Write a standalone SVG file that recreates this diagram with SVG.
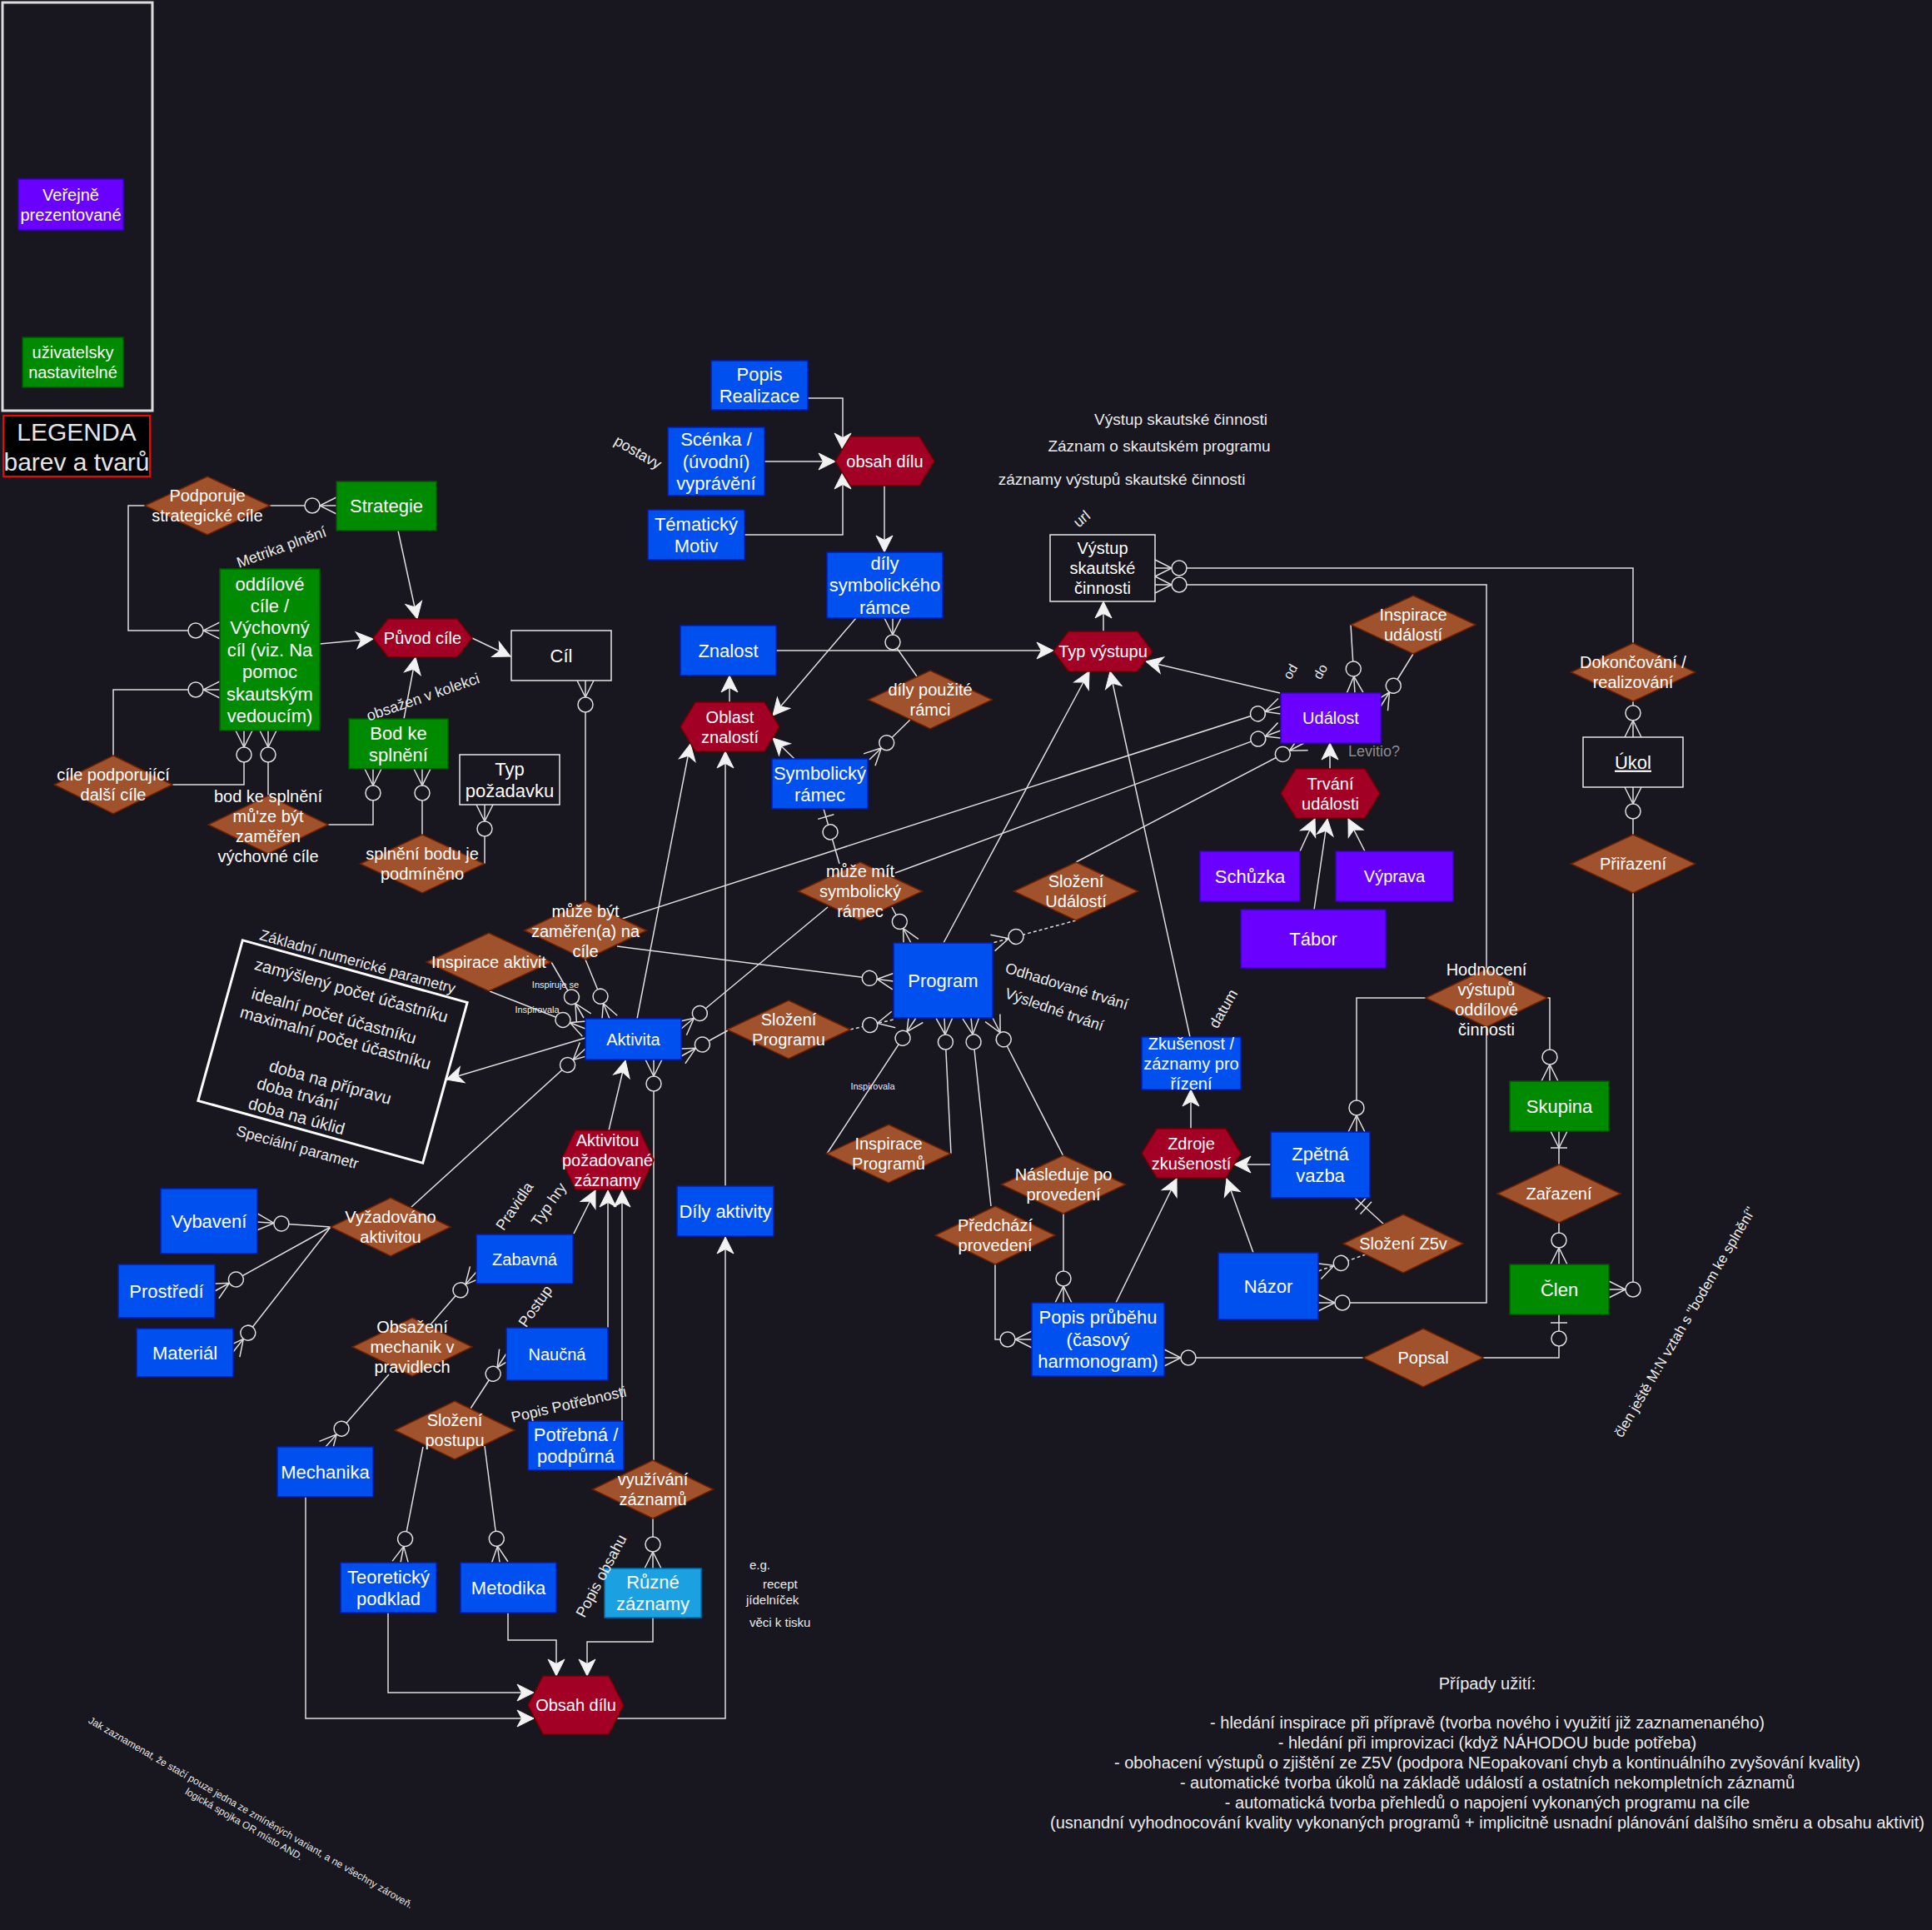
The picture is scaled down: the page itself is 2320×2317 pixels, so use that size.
<svg xmlns="http://www.w3.org/2000/svg" width="2320" height="2317" viewBox="0 0 2320 2317">
<style>
  text { font-family: "Liberation Sans", Arial, Helvetica, sans-serif; fill: #ffffff; }
  .b { fill: #0050ef; stroke: #001dbc; stroke-width: 1.5; }
  .lb { fill: #1ba1e2; stroke: #006eaf; stroke-width: 1.5; }
  .p { fill: #6a00ff; stroke: #3700cc; stroke-width: 1.5; }
  .g { fill: #008a00; stroke: #005700; stroke-width: 1.5; }
  .w { fill: #18161f; stroke: #e6e6e6; stroke-width: 1.5; }
  .h { fill: #a20025; stroke: #6f0000; stroke-width: 1.5; }
  .d { fill: #a0522d; stroke: #6d1f00; stroke-width: 1.5; }
  .t22 { font-size: 22px; text-anchor: middle; }
  .t20 { font-size: 20px; text-anchor: middle; }
  .lbl { font-size: 18px; text-anchor: middle; fill: #ececec; }
  .sm { font-size: 11px; text-anchor: middle; fill: #ececec; }
  .note { font-size: 20px; text-anchor: middle; fill: #ececec; }
  .c { fill: none; stroke: #dedede; stroke-width: 1.5; }
  .dash { stroke-dasharray: 4 3; }
  .er { marker-end: url(#zm); }
  .ar { marker-end: url(#arr); }
</style>
<defs>
  <marker id="arr" markerUnits="userSpaceOnUse" viewBox="-22 -12 24 24" refX="0" refY="0" markerWidth="24" markerHeight="24" orient="auto" overflow="visible">
    <path d="M0,0 L-20,-10 L-14.5,0 L-20,10 Z" fill="#f2f2f2" stroke="#f2f2f2" stroke-width="1"/>
  </marker>
  <marker id="zm" markerUnits="userSpaceOnUse" viewBox="-42 -12 44 24" refX="0" refY="0" markerWidth="44" markerHeight="24" orient="auto" overflow="visible">
    <path d="M0,-10 L-20,0 L0,10" fill="none" stroke="#dedede" stroke-width="1.5"/>
    <circle cx="-29" cy="0" r="9" fill="#18161f" stroke="#dedede" stroke-width="1.5"/>
  </marker>
  <marker id="zo" markerUnits="userSpaceOnUse" viewBox="-42 -12 44 24" refX="0" refY="0" markerWidth="44" markerHeight="24" orient="auto" overflow="visible">
    <path d="M-10,-10 L-10,10" fill="none" stroke="#dedede" stroke-width="1.5"/>
    <circle cx="-29" cy="0" r="9" fill="#18161f" stroke="#dedede" stroke-width="1.5"/>
  </marker>
  <marker id="om" markerUnits="userSpaceOnUse" viewBox="-42 -12 44 24" refX="0" refY="0" markerWidth="44" markerHeight="24" orient="auto" overflow="visible">
    <path d="M0,-10 L-20,0 L0,10 M-20,-10 L-20,10" fill="none" stroke="#dedede" stroke-width="1.5"/>
  </marker>
  <marker id="oo" markerUnits="userSpaceOnUse" viewBox="-42 -12 44 24" refX="0" refY="0" markerWidth="44" markerHeight="24" orient="auto" overflow="visible">
    <path d="M-10,-10 L-10,10 M-18,-10 L-18,10" fill="none" stroke="#dedede" stroke-width="1.5"/>
  </marker>
</defs>

<rect x="0" y="0" width="2320" height="2317" fill="#18161f"/>

<!-- legend -->
<g id="legend">
  <rect x="3" y="3" width="180" height="490" fill="#18161f" stroke="#dcdcdc" stroke-width="3"/>
  <rect class="p" x="22" y="215" width="126" height="61"/>
  <text class="t20" x="85" y="241">Veřejně</text>
  <text class="t20" x="85" y="265">prezentované</text>
  <rect class="g" x="27" y="405" width="121" height="60"/>
  <text class="t20" x="87.5" y="430">uživatelsky</text>
  <text class="t20" x="87.5" y="454">nastavitelné</text>
  <rect x="4" y="499" width="176" height="73" fill="#000000" stroke="#ff0000" stroke-width="2"/>
  <text x="92" y="529" style="font-size:30px;text-anchor:middle;fill:#e6e6e6">LEGENDA</text>
  <text x="92" y="565" style="font-size:30px;text-anchor:middle;fill:#e6e6e6">barev a tvarů</text>
</g>

<!-- connectors -->
<g id="connectors">
  <!-- arrows -->
  <path class="c ar" d="M970,478 H1012 V540"/>
  <path class="c ar" d="M918,554 H1003"/>
  <path class="c ar" d="M894,642 H1012 V567"/>
  <path class="c ar" d="M1062,583 V663"/>
  <path class="c ar" d="M932,781 H1265"/>
  <path class="c ar" d="M1325,758 V722"/>
  <path class="c ar" d="M876,843 V811"/>
  <path class="c ar" d="M1028,742 L928,859"/>
  <path class="c ar" d="M954,911 L928,886"/>
  <path class="c ar" d="M478,637 L501,743"/>
  <path class="c ar" d="M384,773 L448,767"/>
  <path class="c ar" d="M567,766 L613,788"/>
  <path class="c ar" d="M485,863 L499,789"/>
  <path class="c ar" d="M1133,1132 L1308,806"/>
  <path class="c ar" d="M1429,1245 L1333,806"/>
  <path class="c ar" d="M1537,832 L1376,794"/>
  <path class="c ar" d="M1597,923 V892"/>
  <path class="c ar" d="M1561,1022 L1579,983"/>
  <path class="c ar" d="M1578,1092 L1594,983"/>
  <path class="c ar" d="M1639,1022 L1619,983"/>
  <path class="c ar" d="M703,1246 L536,1296"/>
  <path class="c ar" d="M765,1223 L829,893"/>
  <path class="c ar" d="M871,1424 V902"/>
  <path class="c ar" d="M731,1357 L751,1273"/>
  <path class="c ar" d="M689,1481 L715,1429"/>
  <path class="c ar" d="M730,1594 V1429"/>
  <path class="c ar" d="M747,1706 V1429"/>
  <path class="c ar" d="M741,2063 H871 V1485"/>
  <path class="c ar" d="M367,1797 V2063 H641"/>
  <path class="c ar" d="M466,1936 V2032 H641"/>
  <path class="c ar" d="M610,1936 V1969 H668 V2012"/>
  <path class="c ar" d="M784,1942 V1971 H705 V2012"/>
  <path class="c ar" d="M1430,1355 V1308"/>
  <path class="c ar" d="M1340,1564 L1413,1415"/>
  <path class="c ar" d="M1505,1504 L1473,1415"/>
  <path class="c ar" d="M1526,1398 H1482"/>

  <!-- relationships -->
  <path class="c er" d="M324,607 H404"/>
  <path class="c er" d="M174,607 H154 V757 H264"/>
  <path class="c er" d="M136,907 V828 H264"/>
  <path class="c er" d="M207,942 H293 V877"/>
  <path class="c er" d="M322,955 V877"/>
  <path class="c er" d="M394,990 H448 V923"/>
  <path class="c er" d="M507,1002 V923"/>
  <path class="c er" d="M582,1037 V966"/>
  <path class="c er" d="M703,1082 V817"/>
  <path class="c er" d="M1101,812 L1072,771 V742"/>
  <path class="c er" d="M1093,864 L1044,912"/>
  <path class="c" d="M1008,1037 L989,971" marker-end="url(#zo)"/>
  <path class="c er" d="M1071,1089 L1094,1132"/>
  <path class="c er" d="M994,1089 L818,1235"/>
  <path class="c er" d="M874,1237 L818,1268"/>
  <path class="c er" d="M662,1155 L701,1222"/>
  <path class="c er" d="M588,1190 L703,1235"/>
  <path class="c er" d="M703,1152 L732,1223"/>
  <path class="c er" d="M494,1449 L703,1259"/>
  <path class="c er" d="M397,1473 L309,1467"/>
  <path class="c er" d="M397,1473 L258,1550"/>
  <path class="c er" d="M397,1473 L280,1623"/>
  <path class="c er" d="M785,1753 V1272"/>
  <path class="c er" d="M518,1589 L572,1527"/>
  <path class="c er" d="M467,1650 L391,1737"/>
  <path class="c er" d="M565,1691 L608,1625"/>
  <path class="c er" d="M508,1737 L481,1876"/>
  <path class="c er" d="M582,1736 L600,1876"/>
  <path class="c er" d="M784,1823 V1883"/>
  <path class="c er dash" d="M1292,1105 L1192,1132"/>
  <path class="c er dash" d="M1021,1236 L1073,1224"/>
  <path class="c er" d="M741,1136 L1073,1178"/>
  <path class="c er" d="M747,1103 L1538,848"/>
  <path class="c er" d="M1075,1048 L1538,877"/>
  <path class="c er" d="M1292,1035 L1566,892"/>
  <path class="c er" d="M1622,750 L1627,832"/>
  <path class="c er" d="M1697,785 L1658,848"/>
  <path class="c er" d="M1961,772 V682 H1387"/>
  <path class="c er" d="M1785,1163 V702 H1387"/>
  <path class="c er" d="M1785,1233 V1564 H1583"/>
  <path class="c er" d="M1961,842 V885"/>
  <path class="c er" d="M1961,1002 V945"/>
  <path class="c er" d="M1961,1072 V1548 H1932"/>
  <path class="c er" d="M1712,1198 H1629 V1359"/>
  <path class="c er" d="M1858,1198 H1861 V1298"/>
  <path class="c" d="M1872,1398 V1358" marker-end="url(#om)"/>
  <path class="c er" d="M1872,1468 V1518"/>
  <path class="c" d="M1781,1630 H1872 V1578" marker-end="url(#zo)"/>
  <path class="c er" d="M1637,1630 H1398"/>
  <path class="c" d="M1662,1470 L1627,1438" marker-end="url(#oo)"/>
  <path class="c er dash" d="M1640,1506 L1583,1526"/>
  <path class="c er" d="M993,1385 L1100,1222"/>
  <path class="c er" d="M1142,1385 L1134,1222"/>
  <path class="c er" d="M1190,1448 L1166,1222"/>
  <path class="c er" d="M1277,1388 L1192,1222"/>
  <path class="c er" d="M1277,1457 V1564"/>
  <path class="c er" d="M1195,1518 V1608 H1239"/>
</g>

<!-- blue entities -->
<g id="popisRealizace"><rect class="b" x="854" y="433" width="116" height="59"/><text class="t22" x="912" y="457">Popis</text><text class="t22" x="912" y="483.4">Realizace</text></g>
<g id="scenka"><rect class="b" x="802" y="513" width="116" height="82"/><text class="t22" x="860" y="535.3">Scénka /</text><text class="t22" x="860" y="561.7">(úvodní)</text><text class="t22" x="860" y="588.1">vyprávění</text></g>
<g id="tematicky"><rect class="b" x="778" y="612" width="116" height="60"/><text class="t22" x="836" y="636.5">Tématický</text><text class="t22" x="836" y="662.9">Motiv</text></g>
<g id="dilySymbolickehoRamce"><rect class="b" x="993" y="663" width="139" height="79"/><text class="t22" x="1062.5" y="683.8">díly</text><text class="t22" x="1062.5" y="710.2">symbolického</text><text class="t22" x="1062.5" y="736.6">rámce</text></g>
<g id="znalost"><rect class="b" x="817" y="751" width="115" height="60"/><text class="t22" x="874.5" y="788.7">Znalost</text></g>
<g id="symbolickyRamec"><rect class="b" x="927" y="911" width="115" height="60"/><text class="t22" x="984.5" y="935.5">Symbolický</text><text class="t22" x="984.5" y="961.9">rámec</text></g>
<g id="program"><rect class="b" x="1073" y="1132" width="119" height="90"/><text class="t22" x="1132.5" y="1184.7">Program</text></g>
<g id="aktivita"><rect class="b" x="703" y="1223" width="115" height="49"/><text class="t20" x="760.5" y="1254.5">Aktivita</text></g>
<g id="vybaveni"><rect class="b" x="193" y="1427" width="116" height="78"/><text class="t22" x="251" y="1473.7">Vybavení</text></g>
<g id="prostredi"><rect class="b" x="142" y="1518" width="116" height="64"/><text class="t22" x="200" y="1557.7">Prostředí</text></g>
<g id="material"><rect class="b" x="164" y="1595" width="116" height="58"/><text class="t22" x="222" y="1631.7">Materiál</text></g>
<g id="zabavna"><rect class="b" x="572" y="1482" width="116" height="59"/><text class="t20" x="630" y="1518.5">Zabavná</text></g>
<g id="naucna"><rect class="b" x="608" y="1594" width="122" height="63"/><text class="t20" x="669" y="1632.5">Naučná</text></g>
<g id="mechanika"><rect class="b" x="333" y="1737" width="115" height="60"/><text class="t22" x="390.5" y="1774.7">Mechanika</text></g>
<g id="potrebna"><rect class="b" x="634" y="1706" width="115" height="59"/><text class="t22" x="691.5" y="1730">Potřebná /</text><text class="t22" x="691.5" y="1756.4">podpůrná</text></g>
<g id="teoreticky"><rect class="b" x="409" y="1876" width="115" height="60"/><text class="t22" x="466.5" y="1900.5">Teoretický</text><text class="t22" x="466.5" y="1926.9">podklad</text></g>
<g id="metodika"><rect class="b" x="553" y="1876" width="115" height="60"/><text class="t22" x="610.5" y="1913.7">Metodika</text></g>
<g id="dilyAktivity"><rect class="b" x="813" y="1424" width="116" height="60"/><text class="t22" x="871" y="1461.7">Díly aktivity</text></g>
<g id="zkusenost"><rect class="b" x="1371" y="1245" width="119" height="63"/><text class="t20" x="1430.5" y="1259.5">Zkušenost /</text><text class="t20" x="1430.5" y="1283.5">záznamy pro</text><text class="t20" x="1430.5" y="1307.5">řízení</text></g>
<g id="zpetnaVazba"><rect class="b" x="1526" y="1359" width="119" height="79"/><text class="t22" x="1585.5" y="1393">Zpětná</text><text class="t22" x="1585.5" y="1419.4">vazba</text></g>
<g id="nazor"><rect class="b" x="1463" y="1504" width="120" height="80"/><text class="t22" x="1523" y="1551.7">Názor</text></g>
<g id="popisPrubehu"><rect class="b" x="1239" y="1564" width="159" height="88"/><text class="t22" x="1318.5" y="1589.3">Popis průběhu</text><text class="t22" x="1318.5" y="1615.7">(časový</text><text class="t22" x="1318.5" y="1642.1">harmonogram)</text></g>
<g id="ruzneZaznamy"><rect class="lb" x="726" y="1883" width="116" height="59"/><text class="t22" x="784" y="1907">Různé</text><text class="t22" x="784" y="1933.4">záznamy</text></g>

<!-- purple entities -->
<g id="udalost"><rect class="p" x="1538" y="832" width="120" height="60"/><text class="t20" x="1598" y="869">Událost</text></g>
<g id="schuzka"><rect class="p" x="1441" y="1022" width="120" height="60"/><text class="t22" x="1501" y="1059.7">Schůzka</text></g>
<g id="vyprava"><rect class="p" x="1604" y="1022" width="141" height="60"/><text class="t20" x="1674.5" y="1059">Výprava</text></g>
<g id="tabor"><rect class="p" x="1490" y="1092" width="174" height="70"/><text class="t22" x="1577" y="1134.7">Tábor</text></g>

<!-- green entities -->
<g id="strategie"><rect class="g" x="404" y="578" width="120" height="59"/><text class="t22" x="464" y="615.2">Strategie</text></g>
<g id="oddiloveCile"><rect class="g" x="264" y="683" width="120" height="194"/>
  <text class="t22" x="324" y="708.5">oddílové</text><text class="t22" x="324" y="734.9">cíle /</text><text class="t22" x="324" y="761.3">Výchovný</text><text class="t22" x="324" y="787.7">cíl (viz. Na</text><text class="t22" x="324" y="814.1">pomoc</text><text class="t22" x="324" y="840.5">skautským</text><text class="t22" x="324" y="866.9">vedoucím)</text></g>
<g id="bodKeSplneni"><rect class="g" x="419" y="863" width="119" height="60"/><text class="t22" x="478.5" y="887.5">Bod ke</text><text class="t22" x="478.5" y="913.9">splnění</text></g>
<g id="skupina"><rect class="g" x="1813" y="1298" width="119" height="60"/><text class="t22" x="1872.5" y="1335.7">Skupina</text></g>
<g id="clen"><rect class="g" x="1813" y="1518" width="119" height="60"/><text class="t22" x="1872.5" y="1555.7">Člen</text></g>

<!-- outlined entities -->
<g id="cil"><rect class="w" x="614" y="757" width="120" height="60"/><text class="t22" x="674" y="794.7">Cíl</text></g>
<g id="typPozadavku"><rect class="w" x="552" y="906" width="120" height="60"/><text class="t22" x="612" y="930.5">Typ</text><text class="t22" x="612" y="956.9">požadavku</text></g>
<g id="vystup"><rect class="w" x="1261" y="642" width="126" height="80"/><text class="t20" x="1324" y="665">Výstup</text><text class="t20" x="1324" y="689">skautské</text><text class="t20" x="1324" y="713">činnosti</text></g>
<g id="ukol"><rect class="w" x="1901" y="885" width="120" height="60"/><text class="t22" x="1961" y="922.7" text-decoration="underline">Úkol</text></g>

<!-- derived (hexagon) nodes -->
<g id="obsahDilu"><polygon class="h" points="1003,553.5 1021,524 1104,524 1122,553.5 1104,583 1021,583"/><text class="t20" x="1062.5" y="560.5">obsah dílu</text></g>
<g id="puvodCile"><polygon class="h" points="448,766 466,743 549,743 567,766 549,789 466,789"/><text class="t20" x="507.5" y="773">Původ cíle</text></g>
<g id="typVystupu"><polygon class="h" points="1265,782 1283,758 1366,758 1384,782 1366,806 1283,806"/><text class="t20" x="1324.5" y="789">Typ výstupu</text></g>
<g id="oblastZnalosti"><polygon class="h" points="817,872.5 835,843 918,843 936,872.5 918,902 835,902"/><text class="t20" x="876.5" y="867.5">Oblast</text><text class="t20" x="876.5" y="891.5">znalostí</text></g>
<g id="trvaniUdalosti"><polygon class="h" points="1538,952.5 1556,923 1639,923 1657,952.5 1639,982 1556,982"/><text class="t20" x="1597.5" y="947.5">Trvání</text><text class="t20" x="1597.5" y="971.5">události</text></g>
<g id="pozadovaneZaznamy"><polygon class="h" points="674,1392.5 691,1357 768,1357 785,1392.5 768,1428 691,1428"/><text class="t20" x="729.5" y="1375.5">Aktivitou</text><text class="t20" x="729.5" y="1399.5">požadované</text><text class="t20" x="729.5" y="1423.5">záznamy</text></g>
<g id="zdrojeZkusenosti"><polygon class="h" points="1371,1384.5 1389,1355 1472,1355 1490,1384.5 1472,1414 1389,1414"/><text class="t20" x="1430.5" y="1379.5">Zdroje</text><text class="t20" x="1430.5" y="1403.5">zkušeností</text></g>
<g id="obsahDiluAktivity"><polygon class="h" points="634,2047 652,2012 731,2012 749,2047 731,2082 652,2082"/><text class="t20" x="691.5" y="2054">Obsah dílu</text></g>

<!-- relationships (diamonds) -->
<g id="podporuje"><polygon class="d" points="249,572 324,607 249,642 174,607"/><text class="t20" x="249" y="602">Podporuje</text><text class="t20" x="249" y="626">strategické cíle</text></g>
<g id="cilePodporujici"><polygon class="d" points="136,907 207,942 136,977 65,942"/><text class="t20" x="136" y="937">cíle podporující</text><text class="t20" x="136" y="961">další cíle</text></g>
<g id="bodZameren"><polygon class="d" points="322,955 394,990 322,1025 250,990"/><text class="t20" x="322" y="962.5">bod ke splnění</text><text class="t20" x="322" y="986.5">mů'ze být</text><text class="t20" x="322" y="1010.5">zaměřen</text><text class="t20" x="322" y="1034.5">výchovné cíle</text></g>
<g id="splneniBodu"><polygon class="d" points="507,1002 581.5,1037 507,1072 432.5,1037"/><text class="t20" x="507" y="1032">splnění bodu je</text><text class="t20" x="507" y="1056">podmíněno</text></g>
<g id="dilyPouzite"><polygon class="d" points="1117,805 1191.5,840 1117,875 1042.5,840"/><text class="t20" x="1117" y="835">díly použité</text><text class="t20" x="1117" y="859">rámci</text></g>
<g id="muzeMit"><polygon class="d" points="1033,1035 1107.5,1070 1033,1105 958.5,1070"/><text class="t20" x="1033" y="1053">může mít</text><text class="t20" x="1033" y="1077">symbolický</text><text class="t20" x="1033" y="1101">rámec</text></g>
<g id="slozeniUdalosti"><polygon class="d" points="1292,1035 1366.5,1070 1292,1105 1217.5,1070"/><text class="t20" x="1292" y="1065">Složení</text><text class="t20" x="1292" y="1089">Událostí</text></g>
<g id="inspiraceUdalosti"><polygon class="d" points="1697,715 1772,750 1697,785 1622,750"/><text class="t20" x="1697" y="745">Inspirace</text><text class="t20" x="1697" y="769">událostí</text></g>
<g id="dokoncovani"><polygon class="d" points="1961,772 2035.5,807 1961,842 1886.5,807"/><text class="t20" x="1961" y="802">Dokončování /</text><text class="t20" x="1961" y="826">realizování</text></g>
<g id="prirazeni"><polygon class="d" points="1961,1002 2035.5,1037 1961,1072 1886.5,1037"/><text class="t20" x="1961" y="1044">Přiřazení</text></g>
<g id="muzeBytZameren"><polygon class="d" points="703,1082 776.5,1117 703,1152 629.5,1117"/><text class="t20" x="703" y="1101">může být</text><text class="t20" x="703" y="1125">zaměřen(a) na</text><text class="t20" x="703" y="1149">cíle</text></g>
<g id="inspiraceAktivit"><polygon class="d" points="587,1120 662,1155 587,1190 512,1155"/><text class="t20" x="587" y="1162">Inspirace aktivit</text></g>
<g id="slozeniProgramu"><polygon class="d" points="947,1201 1021,1236 947,1271 873,1236"/><text class="t20" x="947" y="1231">Složení</text><text class="t20" x="947" y="1255">Programu</text></g>
<g id="hodnoceni"><polygon class="d" points="1785,1163 1858,1198 1785,1233 1712,1198"/><text class="t20" x="1785" y="1170.5">Hodnocení</text><text class="t20" x="1785" y="1194.5">výstupů</text><text class="t20" x="1785" y="1218.5">oddílové</text><text class="t20" x="1785" y="1242.5">činnosti</text></g>
<g id="vyzadovano"><polygon class="d" points="469,1438 541,1473 469,1508 397,1473"/><text class="t20" x="469" y="1468">Vyžadováno</text><text class="t20" x="469" y="1492">aktivitou</text></g>
<g id="inspiraceProgramu"><polygon class="d" points="1067,1350 1141.5,1385 1067,1420 992.5,1385"/><text class="t20" x="1067" y="1380">Inspirace</text><text class="t20" x="1067" y="1404">Programů</text></g>
<g id="predchazi"><polygon class="d" points="1195,1448 1267,1483 1195,1518 1123,1483"/><text class="t20" x="1195" y="1478">Předchází</text><text class="t20" x="1195" y="1502">provedení</text></g>
<g id="nasleduje"><polygon class="d" points="1277,1387 1351.5,1422 1277,1457 1202.5,1422"/><text class="t20" x="1277" y="1417">Následuje po</text><text class="t20" x="1277" y="1441">provedení</text></g>
<g id="slozeniZ5v"><polygon class="d" points="1685,1458 1757,1493 1685,1528 1613,1493"/><text class="t20" x="1685" y="1500">Složení Z5v</text></g>
<g id="zarazeni"><polygon class="d" points="1872,1398 1946,1433 1872,1468 1798,1433"/><text class="t20" x="1872" y="1440">Zařazení</text></g>
<g id="popsal"><polygon class="d" points="1709,1595 1781,1630 1709,1665 1637,1630"/><text class="t20" x="1709" y="1637">Popsal</text></g>
<g id="obsazeniMechanik"><polygon class="d" points="495,1582 567,1617 495,1652 423,1617"/><text class="t20" x="495" y="1600">Obsažení</text><text class="t20" x="495" y="1624">mechanik v</text><text class="t20" x="495" y="1648">pravidlech</text></g>
<g id="slozeniPostupu"><polygon class="d" points="546,1682 618,1717 546,1752 474,1717"/><text class="t20" x="546" y="1712">Složení</text><text class="t20" x="546" y="1736">postupu</text></g>
<g id="vyuzivaniZaznamu"><polygon class="d" points="784,1753 856.5,1788 784,1823 711.5,1788"/><text class="t20" x="784" y="1783">využívání</text><text class="t20" x="784" y="1807">záznamů</text></g>

<!-- activity parameter note -->
<g id="parametry" transform="translate(399.5,1262.5) rotate(15.5)">
  <rect x="-140" y="-100" width="280" height="200" fill="none" stroke="#ffffff" stroke-width="3"/>
  <text class="lbl" x="0" y="-106">Základní numerické parametry</text>
  <text class="note" x="2" y="-70">zamýšlený počet účastníku</text>
  <text class="note" x="-10" y="-35">idealní počet účastníku</text>
  <text class="note" x="-1" y="-10">maximalní počet účastníku</text>
  <text class="note" x="7" y="43">doba na přípravu</text>
  <text class="note" x="-27" y="67">doba trvání</text>
  <text class="note" x="-21" y="93">doba na úklid</text>
  <text class="lbl" x="-10" y="128">Speciální parametr</text>
</g>

<!-- edge labels -->
<g id="labels">
  <text class="lbl" transform="translate(766,543) rotate(30)" y="6">postavy</text>
  <text class="lbl" transform="translate(1299,623) rotate(-40)" y="6">url</text>
  <text class="lbl" transform="translate(338,657) rotate(-20)" y="6">Metrika plnění</text>
  <text class="lbl" transform="translate(508,837) rotate(-19)" y="6">obsažen v kolekci</text>
  <text class="lbl" transform="translate(1281,1184) rotate(17)" y="6">Odhadované trvání</text>
  <text class="lbl" transform="translate(1266,1212) rotate(19)" y="6">Výsledné trvání</text>
  <text class="lbl" transform="translate(1469,1211) rotate(-60)" y="6">datum</text>
  <text class="lbl" transform="translate(1549,806) rotate(-60)" y="6" style="font-size:16px">od</text>
  <text class="lbl" transform="translate(1585,806) rotate(-60)" y="6" style="font-size:16px">do</text>
  <text class="lbl" transform="translate(618,1448) rotate(-56)" y="6">Pravidla</text>
  <text class="lbl" transform="translate(659,1446) rotate(-55)" y="6">Typ hry</text>
  <text class="lbl" transform="translate(643,1568) rotate(-55)" y="6">Postup</text>
  <text class="lbl" transform="translate(683,1686) rotate(-13)" y="6">Popis Potřebnosti</text>
  <text class="lbl" transform="translate(722,1892) rotate(-62)" y="6">Popis obsahu</text>
  <text x="1619" y="908" style="font-size:18px;fill:#8c8c8c">Levitio?</text>
  <text class="sm" x="667" y="1186">Inspiruje se</text>
  <text class="sm" x="645" y="1216">Inspirovala</text>
  <text class="sm" x="1048" y="1308">Inspirovala</text>
</g>

<!-- free notes -->
<g id="notes">
  <text x="1418" y="509.6" style="font-size:19px;text-anchor:middle;fill:#ececec">Výstup skautské činnosti</text>
  <text x="1392" y="541.6" style="font-size:19px;text-anchor:middle;fill:#ececec">Záznam o skautském programu</text>
  <text x="1347" y="581.6" style="font-size:19px;text-anchor:middle;fill:#ececec">záznamy výstupů skautské činnosti</text>
  <text x="900" y="1883.5" style="font-size:15px;fill:#ececec">e.g.</text>
  <text x="916" y="1907" style="font-size:15px;fill:#ececec">recept</text>
  <text x="896" y="1926" style="font-size:15px;fill:#ececec">jídelníček</text>
  <text x="900" y="1953.4" style="font-size:15px;fill:#ececec">věci k tisku</text>
  <text transform="translate(2023,1587) rotate(-59.5)" y="6" style="font-size:17px;text-anchor:middle;fill:#ececec">člen ještě M:N vztah s "bodem ke splnění"</text>
  <g transform="translate(297,2183) rotate(30)" style="font-size:12px;text-anchor:middle">
    <text x="0" y="-4" style="fill:#e6e6e6">Jak zaznamenat, že stačí pouze jedna ze zmíněných variant, a ne všechny zároveň.</text>
    <text x="0" y="12" style="fill:#e6e6e6">logická spojka OR místo AND.</text>
  </g>
  <g style="font-size:20px;text-anchor:middle">
    <text class="note" x="1786" y="2028">Případy užití:</text>
    <text class="note" x="1786" y="2075">- hledání inspirace při přípravě (tvorba nového i využití již zaznamenaného)</text>
    <text class="note" x="1786" y="2099">- hledání při improvizaci (když NÁHODOU bude potřeba)</text>
    <text class="note" x="1786" y="2123">- obohacení výstupů o zjištění ze Z5V (podpora NEopakovaní chyb a kontinuálního zvyšování kvality)</text>
    <text class="note" x="1786" y="2147">- automatické tvorba úkolů na základě událostí a ostatních nekompletních záznamů</text>
    <text class="note" x="1786" y="2171">- automatická tvorba přehledů o napojení vykonaných programu na cíle</text>
    <text class="note" x="1786" y="2195">(usnandní vyhodnocování kvality vykonaných programů + implicitně usnadní plánování dalšího směru a obsahu aktivit)</text>
  </g>
</g>
</svg>
